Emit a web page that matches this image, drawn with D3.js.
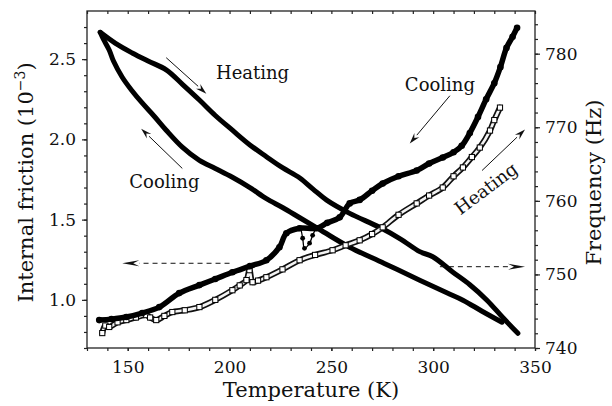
<!DOCTYPE html>
<html>
<head>
<meta charset="utf-8">
<script src="https://cdn.jsdelivr.net/npm/d3@7"></script>
<style>
  body { margin: 0; background: #fff; }
  text { font-family: "DejaVu Serif", "Liberation Serif", serif; fill: #111; }
</style>
</head>
<body>
<div id="chart"></div>
<script>
// internal friction, cooling run (filled circles) [T (K), Q^-1 (1e-3)]
const ifCooling = [
  [136.0,0.874],[142,0.88],[149.3,0.893],[157.1,0.918],[165.5,0.955],[175.3,1.042],
  [185.2,1.092],[193,1.13],[201.4,1.172],[210,1.21],[218.1,1.247],[224.5,1.328],
  [227.9,1.415],[234.4,1.446],[235.9,1.384],[236.8,1.321],[239.3,1.353],[240.8,1.402],
  [242.7,1.446],[248,1.48],[254.1,1.514],[259.0,1.601],[263.9,1.623],[270,1.68],
  [275.2,1.725],[283,1.77],[291.9,1.806],[298,1.85],[304.7,1.887],[310,1.92],
  [314,1.96],[318,2.04],[322,2.14],[326,2.25],[330,2.35],[333,2.45],
  [336,2.57],[339,2.64],[341.2,2.695]
]
// internal friction, heating run (open squares)
const ifHeating = [
  [137.5,0.793],[139,0.84],[140.9,0.831],[145,0.86],[149.3,0.874],[154,0.89],
  [159.1,0.905],[161,0.89],[164.0,0.874],[168,0.9],[171.9,0.924],[178,0.935],
  [185.2,0.955],[193,1.0],[201.4,1.06],[205,1.09],[208.3,1.123],[209.8,1.185],
  [211.3,1.11],[214,1.12],[218.1,1.141],[226,1.19],[234.4,1.247],[242,1.28],
  [250.6,1.309],[257,1.34],[263.9,1.371],[270,1.41],[275.2,1.452],[283,1.53],
  [291.9,1.601],[298,1.65],[304.7,1.70],[310,1.77],[314.6,1.825],[319,1.89],
  [322.9,1.949],[327.9,2.055],[330,2.12],[332.8,2.198]
]
// frequency, heating branch [T (K), f (Hz)]
const freqHeating = [
  [136.5,782.9],[144,781.4],[152.2,780.1],[160,779],[168.9,777.8],[177,775.8],
  [185.2,773.7],[193,771.6],[201.4,769.6],[210,767.6],[218.1,766.0],[226,764.5],
  [234.5,763.1],[241,761.6],[247.7,760.1],[259.0,758.3],[273.7,756.4],[284,754.8],
  [293.4,753.1],[299.8,752.4],[309.7,750.3],[318.0,748.6],[326.4,746.5],[334.3,744.1],
  [341.6,742.0]
]
// frequency, cooling branch
const freqCooling = [
  [333.8,743.5],[324,745],[314.6,746.5],[306.7,747.5],[293.4,749.2],[276,751.5],
  [259.0,753.7],[246,755.8],[234.5,757.7],[226,759.1],[218.1,760.3],[210,761.8],
  [201.4,763.2],[193,764.4],[185.2,765.5],[176.8,767.3],[168.9,769.6],[163,771.5],
  [157.1,773.3],[152,775],[147.3,776.8],[143,779],[140.9,780.5],[138,782],[136.5,782.9]
]

const xTicks = [150, 200, 250, 300, 350]
const leftTicks = [1.0, 1.5, 2.0, 2.5]
const rightTicks = [740, 750, 760, 770, 780]

const W = 612, H = 406
const m = {left: 87, right: 535, top: 11, bottom: 348}

const x = d3.scaleLinear([130, 350], [m.left, m.right])
const yL = d3.scaleLinear([0.7, 2.8], [m.bottom, m.top])
const yR = d3.scaleLinear([740, 785.8], [m.bottom, m.top])

const svg = d3.select("#chart").append("svg")
  .attr("width", W).attr("height", H)

// axes
const axisStyle = function (g, fs) {
  g.select(".domain").remove()
  g.selectAll("line").attr("stroke", "#222").attr("stroke-width", 1.2)
  g.selectAll("text").attr("font-size", fs).attr("fill", "#111")
    .style("font-family", '"DejaVu Serif", serif')
}

svg.append("g").attr("transform", `translate(0,${m.bottom})`)
  .call(d3.axisBottom(x).tickValues(d3.range(130, 351, 10)).tickSize(3).tickFormat(""))
  .call(g => axisStyle(g, 17))
svg.append("g").attr("transform", `translate(0,${m.bottom})`)
  .call(d3.axisBottom(x).tickValues(xTicks).tickSize(3).tickPadding(10).tickFormat(d3.format("d")))
  .call(g => axisStyle(g, 17))
svg.append("g").attr("transform", `translate(0,${m.top})`)
  .call(d3.axisTop(x).tickValues(d3.range(130, 351, 10)).tickSize(-3).tickFormat(""))
  .call(g => axisStyle(g, 17))

svg.append("g").attr("transform", `translate(${m.left},0)`)
  .call(d3.axisLeft(yL).tickValues(d3.range(7, 28).map(d => d / 10)).tickSize(3).tickFormat(""))
  .call(g => axisStyle(g, 17))
svg.append("g").attr("transform", `translate(${m.left},0)`)
  .call(d3.axisLeft(yL).tickValues(leftTicks).tickSize(5).tickPadding(6).tickFormat(d3.format(".1f")))
  .call(g => axisStyle(g, 17))

svg.append("g").attr("transform", `translate(${m.right},0)`)
  .call(d3.axisRight(yR).tickValues(d3.range(740, 786, 2)).tickSize(3).tickFormat(""))
  .call(g => axisStyle(g, 17))
svg.append("g").attr("transform", `translate(${m.right},0)`)
  .call(d3.axisRight(yR).tickValues(rightTicks).tickSize(5).tickPadding(5).tickFormat(d3.format("d")))
  .call(g => axisStyle(g, 17))

svg.append("rect")
  .attr("x", m.left).attr("y", m.top)
  .attr("width", m.right - m.left).attr("height", m.bottom - m.top)
  .attr("fill", "none").attr("stroke", "#222").attr("stroke-width", 1.3)

// titles
svg.append("text")
  .attr("x", (m.left + m.right) / 2).attr("y", 397)
  .attr("text-anchor", "middle").attr("font-size", 21)
  .text("Temperature (K)")

const lt = svg.append("text")
  .attr("transform", `translate(33,${(m.top + m.bottom) / 2 + 3}) rotate(-90)`)
  .attr("text-anchor", "middle").attr("font-size", 21)
lt.append("tspan").text("Internal friction (10")
lt.append("tspan").attr("dy", -8).attr("font-size", 14).text("−3")
lt.append("tspan").attr("dy", 8).text(")")

svg.append("text")
  .attr("transform", `translate(601,${(m.top + m.bottom) / 2 + 3}) rotate(-90)`)
  .attr("text-anchor", "middle").attr("font-size", 21)
  .text("Frequency (Hz)")

// data
const plot = svg.append("g")
const lineL = d3.line().x(d => x(d[0])).y(d => yL(d[1])).curve(d3.curveCatmullRom)
const lineR = d3.line().x(d => x(d[0])).y(d => yR(d[1])).curve(d3.curveCatmullRom)

// frequency loop
;[freqHeating, freqCooling].forEach(s => {
  plot.append("path").attr("d", lineR(s))
    .attr("fill", "none").attr("stroke", "#000")
    .attr("stroke-width", 5).attr("stroke-linejoin", "round").attr("stroke-linecap", "round")
})

// heating internal friction: open squares
plot.append("path").attr("d", lineL(ifHeating))
  .attr("fill", "none").attr("stroke", "#111").attr("stroke-width", 6)
  .attr("stroke-linejoin", "round").attr("stroke-linecap", "round")
plot.append("path").attr("d", lineL(ifHeating))
  .attr("fill", "none").attr("stroke", "#f4f4f4").attr("stroke-width", 2.6)
  .attr("stroke-linejoin", "round").attr("stroke-linecap", "round")
plot.selectAll(".sq").data(ifHeating).join("rect")
  .attr("x", d => x(d[0]) - 2.6).attr("y", d => yL(d[1]) - 2.6)
  .attr("width", 5.2).attr("height", 5.2)
  .attr("fill", "#fff").attr("stroke", "#000").attr("stroke-width", 1)

// cooling internal friction: filled circles (the small dip near 237 K is drawn thin)
const inDip = d => d[0] > 235 && d[0] < 241.5
plot.append("path").attr("d", lineL(ifCooling))
  .attr("fill", "none").attr("stroke", "#000").attr("stroke-width", 1.3)
plot.append("path").attr("d", lineL(ifCooling.filter(d => !inDip(d))))
  .attr("fill", "none").attr("stroke", "#000").attr("stroke-width", 5.5)
  .attr("stroke-linejoin", "round").attr("stroke-linecap", "round")
plot.selectAll(".dot").data(ifCooling).join("circle")
  .attr("cx", d => x(d[0])).attr("cy", d => yL(d[1]))
  .attr("r", d => inDip(d) ? 2.4 : 3.3)
  .attr("fill", "#000")

// annotations
function arrow(x1, y1, x2, y2, len, hw, dashed) {
  const a = Math.atan2(y2 - y1, x2 - x1)
  const bx = x2 - len * Math.cos(a), by = y2 - len * Math.sin(a)
  svg.append("line")
    .attr("x1", x1).attr("y1", y1).attr("x2", bx).attr("y2", by)
    .attr("stroke", "#111").attr("stroke-width", 1)
    .attr("stroke-dasharray", dashed ? "5,4" : null)
  const px = -Math.sin(a) * hw, py = Math.cos(a) * hw
  svg.append("path")
    .attr("d", `M${x2},${y2}L${bx + px},${by + py}L${bx + 0.35 * len * Math.cos(a)},${by + 0.35 * len * Math.sin(a)}L${bx - px},${by - py}Z`)
    .attr("fill", "#111")
}

arrow(x(168.9), yL(2.509), x(188.6), yL(2.285), 11, 3.2, false)
arrow(x(176.8), yL(1.819), x(156.6), yL(2.067), 11, 3.2, false)
arrow(x(308.2), yL(2.272), x(288.5), yL(1.974), 11, 3.2, false)
arrow(x(324.0), yL(1.806), x(345.1), yL(2.061), 11, 3.2, false)
arrow(x(200), yL(1.228), x(147.3), yL(1.228), 17, 3, true)
arrow(x(303.3), yR(751.05), x(345.1), yR(751.05), 17, 3, true)

svg.append("text").attr("x", x(211.3)).attr("y", yL(2.378))
  .attr("text-anchor", "middle").attr("font-size", 18).text("Heating")
svg.append("text").attr("x", x(168)).attr("y", yL(1.70))
  .attr("text-anchor", "middle").attr("font-size", 18).text("Cooling")
svg.append("text").attr("x", x(303.3)).attr("y", yL(2.303))
  .attr("text-anchor", "middle").attr("font-size", 18).text("Cooling")
svg.append("text")
  .attr("transform", `translate(${x(325.9)},${yL(1.694)}) rotate(-37)`)
  .attr("text-anchor", "middle").attr("dy", "0.35em").attr("font-size", 18).text("Heating")
</script>
</body>
</html>
